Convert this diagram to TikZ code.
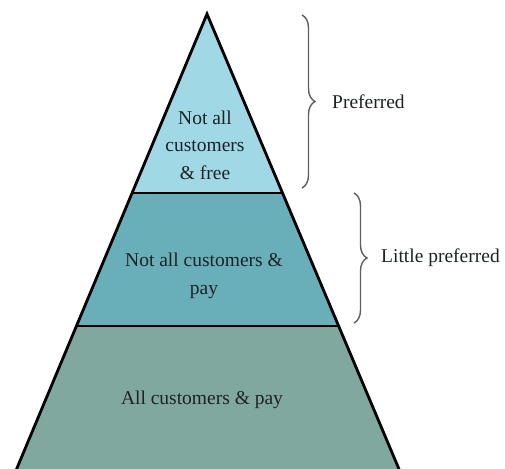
\documentclass[tikz,border=0pt]{standalone}
\usepackage{fontspec}
\newfontfamily\labelfont{LiberationSerif}[Extension=.ttf, UprightFont=*-Regular]
\usetikzlibrary{decorations.pathreplacing}
\definecolor{tiertop}{RGB}{160,216,230}
\definecolor{tiermid}{RGB}{105,175,186}
\definecolor{tierbase}{RGB}{128,168,158}
\definecolor{bracegray}{RGB}{95,95,95}
\definecolor{labeltext}{RGB}{28,34,38}
\tikzset{
  tierlabel/.style={font=\labelfont\fontsize{19.5}{27.5}\selectfont, text=labeltext, align=center, inner sep=0pt},
  sidelabel/.style={font=\labelfont\fontsize{19.5}{27.5}\selectfont, text=labeltext, anchor=west, inner sep=0pt},
  tieredge/.style={line width=2.8pt, line join=miter},
  bracket/.style={draw=bracegray, line width=1.4pt, decorate, decoration={brace, amplitude=13pt}},
}
\begin{document}
\begin{tikzpicture}[x=1pt, y=-1pt]
  \useasboundingbox (0,0) rectangle (505,468);
  \clip (0,0) rectangle (505,468);

  % corner points of the pyramid and its tier boundaries
  \coordinate (apex) at (207,14);
  \coordinate (l1) at (132,193);
  \coordinate (r1) at (282.5,193);
  \coordinate (l2) at (76.3,326);
  \coordinate (r2) at (338.6,326);
  \coordinate (lb) at (12,480);
  \coordinate (rb) at (403.6,480);

  % tier fills
  \fill[tiertop]  (apex) -- (r1) -- (l1) -- cycle;
  \fill[tiermid]  (l1) -- (r1) -- (r2) -- (l2) -- cycle;
  \fill[tierbase] (l2) -- (r2) -- (rb) -- (lb) -- cycle;

  % outline and dividers
  \draw[tieredge] (l1) -- (r1);
  \draw[tieredge] (l2) -- (r2);
  \draw[tieredge] (lb) -- (apex) -- (rb);

  % tier texts
  \node[tierlabel] (toptier) at (205,145) {Not all\\customers\\\& free};
  \node[tierlabel] (midtier) at (204,276) {Not all customers \&\\pay};
  \node[tierlabel, anchor=base] (basetier) at (202,404) {All customers \& pay};

  % braces with their labels
  \coordinate (b1top) at (302,15);
  \coordinate (b1bot) at (302,188);
  \coordinate (b2top) at (354,193);
  \coordinate (b2bot) at (354,323);
  \draw[bracket] (b1top) -- (b1bot);
  \draw[bracket] (b2top) -- (b2bot);
  \node[sidelabel] (pref) at (332,102) {Preferred};
  \node[sidelabel] (littlepref) at (381,258) {Little preferred};
\end{tikzpicture}
\end{document}
